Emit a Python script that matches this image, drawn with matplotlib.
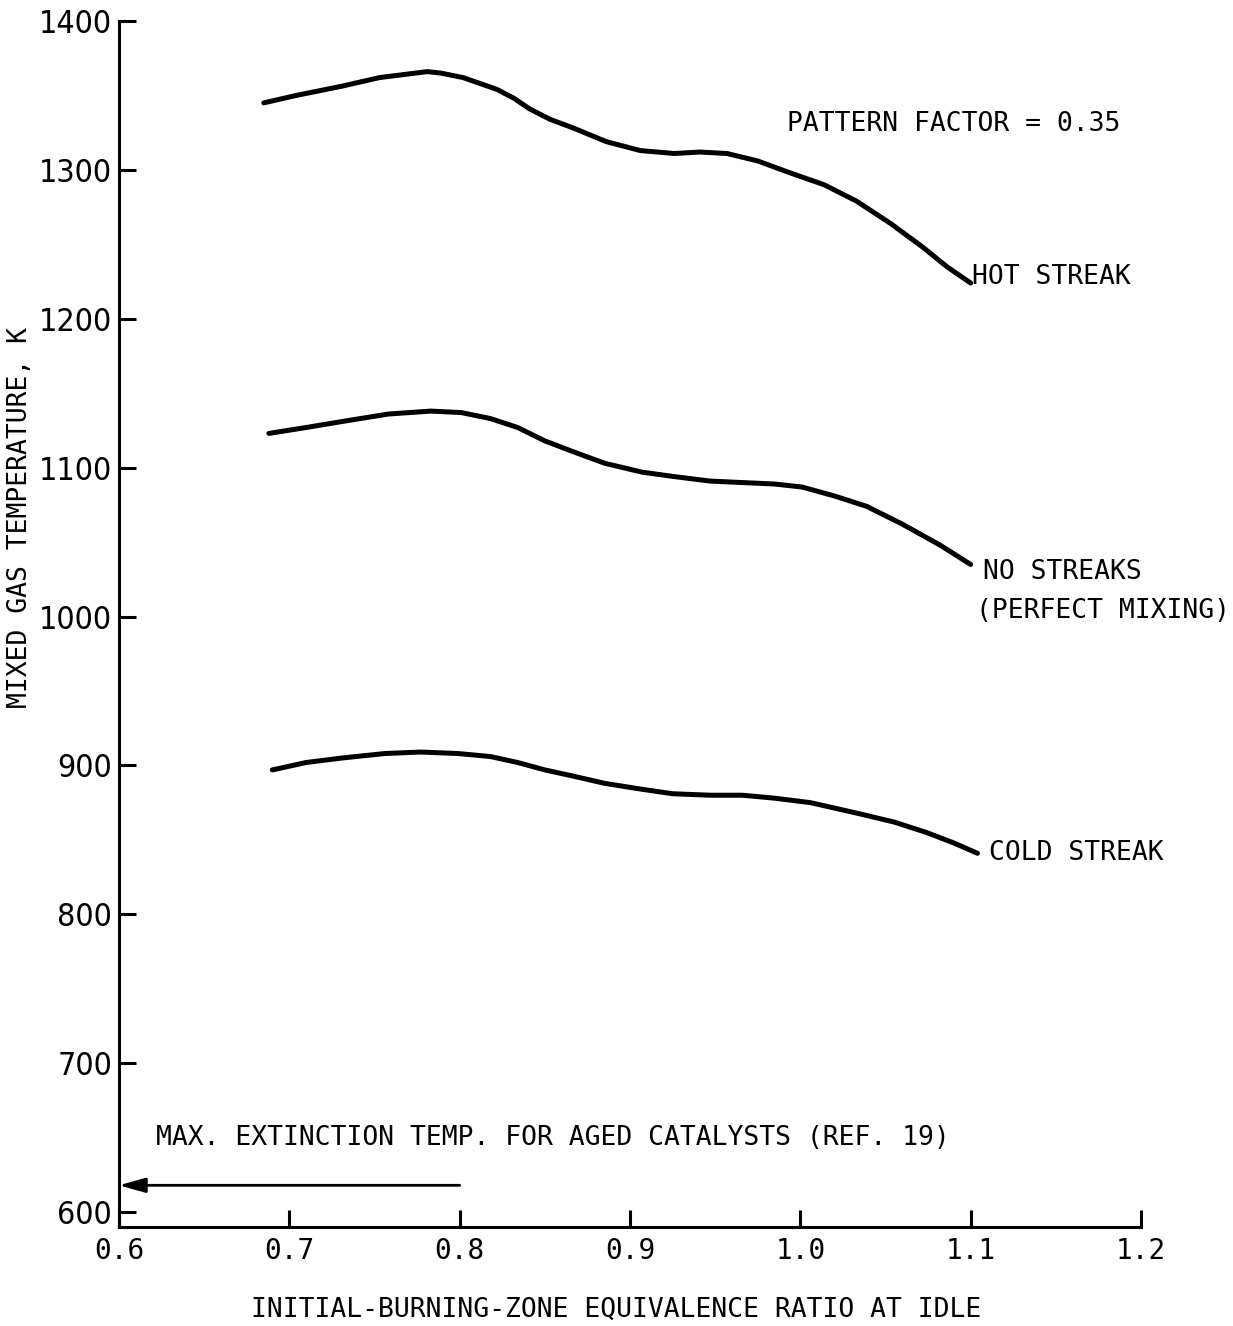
import matplotlib
matplotlib.use("Agg")
import matplotlib.pyplot as plt
from matplotlib import font_manager

hot_x = [0.685, 0.704, 0.730, 0.753, 0.767, 0.781, 0.789, 0.802, 0.822, 0.832, 0.841,
         0.853, 0.867, 0.886, 0.906, 0.926, 0.941, 0.957, 0.975, 0.994, 1.014, 1.033,
         1.053, 1.072, 1.086, 1.100]
hot_y = [1345, 1350, 1356, 1362, 1364, 1366, 1365, 1362, 1354, 1348, 1341,
         1334, 1328, 1319, 1313, 1311, 1312, 1311, 1306, 1298, 1290, 1279,
         1264, 1248, 1235, 1224]

mix_x = [0.688, 0.710, 0.731, 0.758, 0.783, 0.801, 0.818, 0.834, 0.850, 0.866, 0.885,
         0.907, 0.926, 0.947, 0.966, 0.985, 1.001, 1.020, 1.039, 1.060, 1.082, 1.100]
mix_y = [1123, 1127, 1131, 1136, 1138, 1137, 1133, 1127, 1118, 1111, 1103,
         1097, 1094, 1091, 1090, 1089, 1087, 1081, 1074, 1062, 1048, 1035]

cold_x = [0.690, 0.710, 0.731, 0.756, 0.777, 0.799, 0.818, 0.834, 0.850, 0.866, 0.885,
          0.907, 0.925, 0.947, 0.966, 0.985, 1.006, 1.033, 1.055, 1.074, 1.090, 1.104]
cold_y = [897, 902, 905, 908, 909, 908, 906, 902, 897, 893, 888,
          884, 881, 880, 880, 878, 875, 868, 862, 855, 848, 841]

x_ticks = [0.6, 0.7, 0.8, 0.9, 1.0, 1.1, 1.2]
x_labels = ["0.6", "0.7", "0.8", "0.9", "1.0", "1.1", "1.2"]
y_ticks = [600, 700, 800, 900, 1000, 1100, 1200, 1300, 1400]

extinction_temp = 618  # max extinction temp for aged catalysts
extinction_from = 0.8

mono = ["DejaVu Sans Mono"]
fs = 19

# a narrow sans for the y tick numbers if one is around
ytick_font = dict(family="DejaVu Sans", fontsize=21)
for f in font_manager.fontManager.ttflist:
    if f.name in ("Liberation Sans Narrow", "Arial Narrow"):
        ytick_font = dict(family=f.name, fontsize=24)
        break
    if f.name == "DejaVu Sans" and "condensed" in str(f.stretch):
        ytick_font = dict(family="DejaVu Sans", fontstretch=f.stretch, fontsize=23)

fig = plt.figure(figsize=(12.33, 13.26), dpi=100)
ax = fig.add_axes([119 / 1233, 1 - 1227 / 1326, (1141 - 119) / 1233, (1227 - 21) / 1326])

for xs, ys in [(hot_x, hot_y), (mix_x, mix_y), (cold_x, cold_y)]:
    ax.plot(xs, ys, color="black", lw=3.6, solid_capstyle="round", solid_joinstyle="round")

ax.set_xlim(0.6, 1.2)
ax.set_ylim(590, 1400)

ax.spines["top"].set_visible(False)
ax.spines["right"].set_visible(False)
for s in ["left", "bottom"]:
    ax.spines[s].set_linewidth(2.2)

ax.set_xticks(x_ticks)
ax.set_xticklabels(x_labels, family=mono, fontsize=20)
ax.set_yticks(y_ticks)
ax.set_yticklabels([str(v) for v in y_ticks], **ytick_font)
ax.tick_params(axis="both", direction="in", length=12, width=2.2)
ax.tick_params(axis="x", pad=7)
ax.tick_params(axis="y", pad=5)

# labels on the curves
ax.text(0.992, 1331, "PATTERN FACTOR = 0.35", family=mono, fontsize=fs, va="center")
ax.text(1.101, 1228, "HOT STREAK", family=mono, fontsize=fs, va="center")
ax.text(1.107, 1030, "NO STREAKS", family=mono, fontsize=fs, va="center")
ax.text(1.103, 1004, "(PERFECT MIXING)", family=mono, fontsize=fs, va="center")
ax.text(1.111, 841, "COLD STREAK", family=mono, fontsize=fs, va="center")

ax.text(0.622, 650, "MAX. EXTINCTION TEMP. FOR AGED CATALYSTS (REF. 19)",
        family=mono, fontsize=fs, va="center")
ax.annotate("", xy=(0.6, extinction_temp), xytext=(extinction_from, extinction_temp),
            arrowprops=dict(arrowstyle="-|>,head_length=1.6,head_width=0.45",
                            color="black", lw=2.0, shrinkA=0, shrinkB=0))

fig.text(616 / 1233, 1 - 1310 / 1326, "INITIAL-BURNING-ZONE EQUIVALENCE RATIO AT IDLE",
         family=mono, fontsize=fs, ha="center", va="center")
fig.text(20 / 1233, 1 - 518 / 1326, "MIXED GAS TEMPERATURE, K",
         family=mono, fontsize=fs, ha="center", va="center", rotation=90)

fig.savefig("out.png", dpi=100)
